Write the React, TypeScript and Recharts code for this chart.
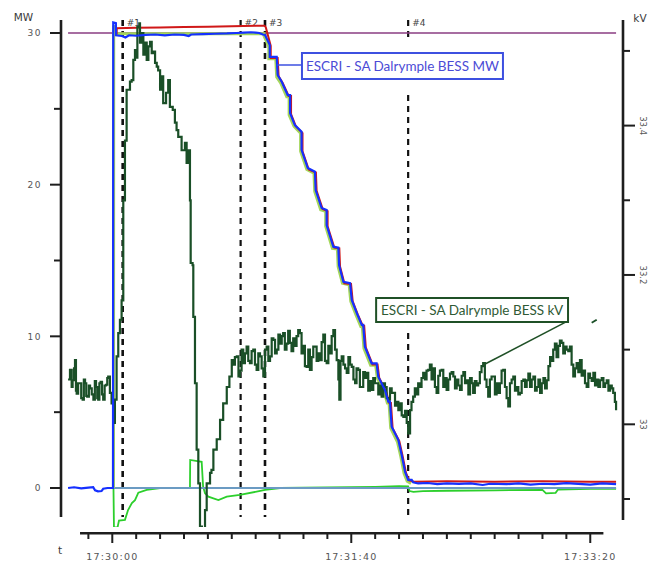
import React from 'react';
import { ComposedChart, Line, XAxis, YAxis, ReferenceLine, ReferenceArea } from 'recharts';

// time axis: seconds after 17:30:00
const T_MIN = -21.46;
const T_MAX = 213.7;
const MW_MIN = -2.571;
const MW_MAX = 30.857;
const KV_MIN = 32.8625;
const KV_MAX = 33.5414;

const timeTicks = [-10, 0, 10, 20, 30, 40, 50, 60, 70, 80, 90, 100, 110, 120, 130, 140, 150, 160, 170, 180, 190, 200];
const timeLabels: Record<string, string> = { '0': '17:30:00', '100': '17:31:40', '200': '17:33:20' };
const mwTicks = [0, 5, 10, 15, 20, 25, 30];
const kvTicks = [32.9, 33, 33.1, 33.2, 33.3, 33.4, 33.5];
const kvLabels = ['33', '33.2', '33.4'];

const events = [
  { name: '#1', t: 4.35, width: 2.6, parts: [[30.857, -1.91]] },
  { name: '#2', t: 53.7, width: 2.2, parts: [[30.857, -1.91]] },
  { name: '#3', t: 63.9, width: 2.6, parts: [[30.857, -1.91]] },
  { name: '#4', t: 123.8, width: 2.2, parts: [[30.857, 29.74], [25.91, 13.25], [10.22, -1.91]] },
];

// MW limit and zero reference
const limitMw: [number, number][] = [[-18.5, 30], [210.8, 30]];
const zeroMw: [number, number][] = [[0.5, 0], [210.8, 0]];

// BESS active power (blue)
const bessMw: [number, number][] = [
  [-18.5, 0.0], [-16, 0.05], [-13, -0.02], [-10, 0.03], [-8, 0.05], [-7.2, -0.15], [-6, -0.22], [-4.5, -0.2],
  [-3.8, -0.05], [-2, 0.0], [0.3, 0.0], [0.4, 30.7], [1.5, 30.65], [1.6, 29.85], [4, 29.8], [5.5, 29.7], [7, 29.85],
  [10, 29.82], [14, 29.88], [18, 29.9], [22, 29.85], [26, 29.9], [30, 29.88], [32, 29.8], [33, 29.9], [38, 29.92],
  [43, 29.95], [48, 29.97], [52, 30.0], [55, 30.02], [58, 30.05], [60, 30.02], [61.5, 30.0], [63, 29.9],
  [63.9, 29.87], [65.9, 29.21], [65.9, 28.42], [68.8, 28.42], [69.2, 27.23], [70.9, 26.79], [73.4, 25.91],
  [74.4, 25.91], [74.4, 24.72], [76.4, 23.93], [79.2, 23.49], [79.2, 22.29], [81.8, 21.1], [84.8, 20.85],
  [85.1, 19.65], [87.6, 18.46], [89.7, 18.33], [89.7, 17.34], [92.5, 15.91], [94.6, 15.84], [94.9, 14.7],
  [96.7, 13.6], [99.5, 13.5], [100.2, 12.4], [102.3, 11.54], [104.4, 10.75], [105.0, 10.75], [105.7, 9.32],
  [108.5, 8.22], [110.6, 8.22], [111.3, 7.34], [114.1, 6.46], [115.5, 5.69], [116.2, 5.69], [116.9, 4.04],
  [119.7, 3.16], [121.1, 2.18], [122.5, 1.07], [123.8, 0.53], [125.3, 0.53], [125.9, 0.38], [128, 0.3],
  [132, 0.33], [136, 0.25], [140, 0.3], [145, 0.27], [150, 0.3], [155, 0.2], [158, 0.28], [165, 0.25],
  [170, 0.3], [175, 0.22], [180, 0.28], [185, 0.25], [190, 0.32], [195, 0.27], [200, 0.22], [205, 0.3], [210.8, 0.25],
];

// setpoint (red)
const setpointMw: [number, number][] = [
  [1.8, 29.9], [1.9, 30.32], [10, 30.34], [20, 30.37], [30, 30.39], [40, 30.42], [50, 30.44], [60, 30.47],
  [63.7, 30.48], [64.2, 30.4], [66.3, 29.15], [66.3, 28.35], [69.2, 28.35], [69.6, 27.15], [71.3, 26.7],
  [73.8, 25.85], [74.8, 25.85], [74.8, 24.65], [76.8, 23.85], [79.6, 23.4], [79.6, 22.2], [82.2, 21.0],
  [85.2, 20.8], [85.5, 19.6], [88.0, 18.4], [90.1, 18.25], [90.1, 17.25], [92.9, 15.85], [95.0, 15.8],
  [95.3, 14.6], [97.1, 13.5], [99.9, 13.45], [100.6, 12.3], [102.7, 11.45], [104.8, 10.7], [105.4, 10.7],
  [106.1, 9.25], [108.9, 8.15], [111.0, 8.15], [111.7, 7.25], [114.5, 6.4], [115.9, 5.6], [116.6, 5.6],
  [117.3, 3.95], [120.1, 3.1], [121.5, 2.1], [122.9, 1.0], [124.2, 0.5], [126.3, 0.42], [140, 0.44],
  [160, 0.42], [180, 0.44], [200, 0.42], [210.8, 0.42],
];

// available / target (yellow green)
const targetMw: [number, number][] = [
  [0.5, 0], [0.6, 30.5], [1.4, 29.95], [63.5, 29.95], [63.5, 29.8], [65.5, 29.1], [65.5, 28.3], [68.4, 28.3],
  [68.8, 27.1], [70.5, 26.7], [73.0, 25.8], [74.0, 25.8], [74.0, 24.6], [76.0, 23.85], [78.8, 23.4],
  [78.8, 22.2], [81.4, 21.0], [84.4, 20.75], [84.7, 19.55], [87.2, 18.35], [89.3, 18.25], [89.3, 17.25],
  [92.1, 15.8], [94.2, 15.75], [94.5, 14.6], [96.3, 13.5], [99.1, 13.4], [99.8, 12.3], [101.9, 11.45],
  [104.0, 10.65], [104.6, 10.65], [105.3, 9.2], [108.1, 8.1], [110.2, 8.1], [110.9, 7.25], [113.7, 6.35],
  [115.1, 5.6], [115.8, 5.6], [116.5, 3.95], [119.3, 3.05], [120.7, 2.1], [122.1, 0.95], [123.4, 0.45], [125.0, 0.3],
];

// reactive power (bright green)
const reactiveMw: [number, number][] = [
  [0.5, 0], [0.7, -2.6], [2.2, -2.6], [2.8, -2.15], [5.3, -2.1], [6.6, -1.45], [8.2, -1.0], [9.5, -0.8],
  [10.9, -0.31], [14.4, -0.13], [20, 0.0], [28, 0.0], [32.5, 0.02], [32.6, 1.85], [37.4, 1.73], [38.0, 0.1],
  [38.8, -0.35], [40.2, -0.57], [44.4, -0.79], [47.9, -0.57], [53.4, -0.46], [60.4, -0.24], [63.9, -0.13],
  [70.2, 0.0], [100, 0.05], [110, 0.08], [120, 0.12], [123.8, 0.1], [124.4, -0.2], [126, -0.25], [130, -0.2],
  [140, -0.18], [160, -0.15], [180, -0.12], [181.5, -0.35], [185.5, -0.32], [186.5, -0.1], [200, -0.05], [210.8, -0.05],
];

// BESS terminal voltage, kV (dark green)
const bessKv: [number, number][] = [
  [-18.5, 33.06], [-17.7, 33.073], [-17.0, 33.05], [-16.6, 33.059], [-16.0, 33.075], [-15.6, 33.086],
  [-15.2, 33.045], [-14.9, 33.041], [-14.3, 33.055], [-13.5, 33.055], [-13.0, 33.035], [-12.4, 33.033],
  [-11.9, 33.06], [-11.4, 33.055], [-10.9, 33.038], [-10.5, 33.037], [-9.8, 33.052], [-9.3, 33.048],
  [-8.6, 33.04], [-7.9, 33.033], [-7.3, 33.058], [-6.8, 33.05], [-6.3, 33.035], [-5.9, 33.033], [-5.4, 33.055],
  [-4.9, 33.057], [-4.3, 33.04], [-3.8, 33.033], [-3.2, 33.052], [-2.6, 33.053], [-2.1, 33.062], [-1.7, 33.064],
  [-1.0, 33.042], [-0.3, 33.028], [0.4, 33.002], [1.1, 33.033], [1.8, 33.091], [2.5, 33.122], [3.2, 33.14],
  [3.9, 33.166], [4.6, 33.3], [5.3, 33.38], [6.0, 33.448], [7.4, 33.459], [8.1, 33.461], [8.8, 33.488],
  [9.5, 33.501], [9.9, 33.491], [10.5, 33.532], [11.3, 33.537], [11.6, 33.511], [12.3, 33.524], [13.0, 33.495],
  [13.7, 33.511], [14.4, 33.488], [15.1, 33.506], [15.8, 33.512], [16.5, 33.497], [17.2, 33.499], [17.9, 33.484],
  [18.6, 33.479], [19.2, 33.474], [20.0, 33.448], [20.7, 33.466], [21.3, 33.43], [22.5, 33.444], [23.4, 33.461],
  [24.1, 33.425], [25.3, 33.421], [26.2, 33.404], [26.9, 33.394], [27.6, 33.385], [29.0, 33.367], [30.4, 33.377],
  [31.1, 33.35], [31.8, 33.367], [32.5, 33.3], [32.8, 33.216], [33.6, 33.213], [33.9, 33.144], [34.6, 33.055],
  [35.3, 32.966], [36.0, 32.921], [36.7, 32.863], [37.5, 32.855], [38.4, 32.86], [38.8, 32.885], [39.5, 32.921],
  [40.9, 32.935], [41.5, 32.939], [42.3, 32.966], [43.7, 32.98], [45.1, 33.006], [46.4, 33.028], [47.9, 33.05],
  [49.0, 33.064], [50.0, 33.086], [50.6, 33.08], [51.3, 33.09], [52.1, 33.091], [52.8, 33.064], [53.4, 33.072],
  [54.1, 33.1], [54.8, 33.082], [55.5, 33.095], [56.2, 33.104], [56.9, 33.085], [57.6, 33.082], [58.3, 33.098],
  [59.0, 33.1], [59.7, 33.08], [60.4, 33.073], [61.1, 33.095], [61.8, 33.091], [62.5, 33.075], [63.2, 33.064],
  [63.9, 33.1], [64.6, 33.104], [65.3, 33.085], [66.0, 33.091], [66.7, 33.115], [67.4, 33.113], [68.1, 33.095],
  [68.8, 33.1], [69.5, 33.12], [70.2, 33.108], [70.9, 33.118], [71.5, 33.122], [72.2, 33.1], [72.9, 33.108],
  [73.6, 33.125], [74.3, 33.109], [75.0, 33.098], [75.7, 33.115], [76.4, 33.105], [77.1, 33.118], [77.8, 33.126],
  [78.5, 33.122], [79.2, 33.095], [79.9, 33.105], [80.6, 33.078], [81.3, 33.077], [82.0, 33.1], [82.7, 33.073],
  [83.4, 33.09], [84.1, 33.104], [84.8, 33.104], [85.5, 33.085], [86.2, 33.095], [86.9, 33.086], [87.6, 33.11],
  [88.3, 33.12], [89.0, 33.085], [89.7, 33.082], [90.4, 33.105], [91.1, 33.095], [91.8, 33.118], [92.5, 33.126],
  [93.2, 33.1], [93.9, 33.086], [94.6, 33.06], [95.0, 33.033], [95.5, 33.085], [96.0, 33.091], [96.7, 33.08],
  [97.4, 33.075], [98.1, 33.069], [98.8, 33.09], [99.5, 33.08], [100.2, 33.077], [100.9, 33.06], [101.6, 33.055],
  [102.2, 33.075], [102.9, 33.073], [103.6, 33.05], [104.4, 33.05], [105.0, 33.07], [105.7, 33.062], [106.4, 33.069],
  [107.1, 33.045], [107.8, 33.058], [108.5, 33.046], [109.2, 33.062], [109.9, 33.055], [110.6, 33.055],
  [111.3, 33.04], [112.0, 33.052], [112.7, 33.037], [113.4, 33.055], [114.1, 33.05], [114.8, 33.035],
  [115.5, 33.033], [116.2, 33.048], [116.9, 33.042], [117.6, 33.042], [118.3, 33.025], [119.0, 33.03],
  [119.7, 33.019], [120.4, 33.028], [121.1, 33.012], [121.8, 33.01], [122.5, 33.018], [123.2, 33.002],
  [123.8, 32.988], [124.6, 33.019], [125.2, 33.03], [125.9, 33.037], [126.6, 33.048], [127.3, 33.04],
  [128.0, 33.055], [128.7, 33.05], [129.4, 33.062], [130.1, 33.069], [130.8, 33.06], [131.5, 33.072],
  [132.2, 33.073], [132.9, 33.08], [133.6, 33.06], [134.3, 33.075], [135.0, 33.05], [135.7, 33.042],
  [136.4, 33.065], [137.1, 33.072], [137.8, 33.073], [138.5, 33.05], [139.2, 33.062], [139.9, 33.046],
  [140.6, 33.06], [141.3, 33.068], [142.0, 33.07], [142.7, 33.064], [143.4, 33.048], [144.1, 33.06],
  [144.8, 33.052], [145.5, 33.046], [146.2, 33.065], [146.9, 33.07], [147.6, 33.055], [148.3, 33.059],
  [149.0, 33.04], [149.7, 33.062], [150.4, 33.055], [151.0, 33.042], [151.7, 33.058], [152.4, 33.052],
  [153.1, 33.055], [153.8, 33.07], [154.5, 33.078], [155.2, 33.082], [155.9, 33.06], [156.6, 33.05],
  [157.3, 33.037], [158.0, 33.06], [158.7, 33.064], [159.4, 33.064], [160.1, 33.04], [160.8, 33.055],
  [161.5, 33.042], [162.2, 33.055], [162.9, 33.072], [163.6, 33.073], [164.3, 33.05], [165.0, 33.035],
  [165.7, 33.024], [166.4, 33.055], [167.1, 33.06], [167.8, 33.064], [168.5, 33.045], [169.2, 33.05],
  [169.9, 33.04], [170.6, 33.042], [171.3, 33.058], [172.0, 33.06], [172.7, 33.05], [173.4, 33.059],
  [174.1, 33.068], [174.8, 33.05], [175.5, 33.06], [176.2, 33.064], [176.9, 33.045], [177.6, 33.05],
  [178.3, 33.06], [179.0, 33.042], [179.7, 33.055], [180.4, 33.062], [181.1, 33.048], [181.8, 33.059],
  [182.5, 33.078], [183.2, 33.09], [183.8, 33.085], [184.5, 33.1], [185.2, 33.108], [185.9, 33.09],
  [186.6, 33.105], [187.3, 33.112], [188.0, 33.109], [188.7, 33.095], [189.4, 33.104], [190.1, 33.1],
  [190.8, 33.098], [191.5, 33.104], [192.2, 33.08], [192.9, 33.064], [193.6, 33.075], [194.3, 33.082],
  [195.0, 33.07], [195.7, 33.086], [196.4, 33.065], [197.1, 33.072], [197.8, 33.055], [198.5, 33.05],
  [199.2, 33.068], [199.9, 33.062], [200.6, 33.058], [201.3, 33.069], [202.0, 33.052], [202.7, 33.06],
  [203.4, 33.05], [204.1, 33.059], [204.8, 33.062], [205.5, 33.05], [206.2, 33.055], [206.9, 33.059],
  [207.6, 33.045], [208.3, 33.052], [209.0, 33.048], [209.6, 33.042], [210.3, 33.03], [210.8, 33.019],
];
const strayKv: [number, number][] = [[200.6, 33.136], [202.7, 33.14]];

// annotation boxes (MW axis units)
const mwBox = { t1: 79.37, t2: 163.47, y1: 28.68, y2: 26.97, text: 'ESCRI - SA Dalrymple BESS MW' };
const mwLeader = [{ x: 68.8, y: 27.89 }, { x: 79.37, y: 27.89 }];
const kvBox = { t1: 110.4, t2: 190.7, y1: 12.53, y2: 10.95, text: 'ESCRI - SA Dalrymple BESS kV' };
const kvLeader = [{ x: 190.1, y: 10.97 }, { x: 155.2, y: 8.11 }];

const rows = (pts: [number, number][]) => pts.map(([t, v]) => ({ t, v }));

const axisFont = '"DejaVu Sans", sans-serif';
const axisColor = '#1e1e1e';

const MwTick = (props: any) => {
  const { x, y, payload } = props;
  const major = payload.value % 10 === 0;
  return (
    <g>
      <line x1={x - (major ? 11 : 7)} x2={x} y1={y} y2={y} stroke={axisColor} strokeWidth={2} />
      {major && (
        <text x={x - 19} y={y + 3.3} textAnchor="end" fontSize={9} fill="#555" fontFamily={axisFont} style={{ letterSpacing: '1.5px' }}>
          {payload.value}
        </text>
      )}
    </g>
  );
};

const KvTick = (props: any) => {
  const { x, y, payload } = props;
  const label = String(payload.value);
  const major = kvLabels.includes(label);
  return (
    <g>
      <line x1={x} x2={x + (major ? 12 : 7)} y1={y} y2={y} stroke={axisColor} strokeWidth={2} />
      {major && (
        <text x={x + 19.5} y={y} transform={`rotate(90 ${x + 19.5} ${y})`} textAnchor="middle" dominantBaseline="central" fontSize={8.5} fill="#555" fontFamily={axisFont}>
          {label}
        </text>
      )}
    </g>
  );
};

const TimeTick = (props: any) => {
  const { x, y, payload } = props;
  const label = timeLabels[String(payload.value)];
  return (
    <g>
      <line x1={x} x2={x} y1={y + 6} y2={y + (label ? 16 : 12)} stroke={axisColor} strokeWidth={2} />
      {label && (
        <text x={x} y={y + 32.5} textAnchor="middle" fontSize={9.5} fill="#555" fontFamily={axisFont} style={{ letterSpacing: '1.2px' }}>
          {label}
        </text>
      )}
    </g>
  );
};

const eventLabel = (name: string) => (p: any) => {
  const vb = p.viewBox || {};
  const x = vb.x ?? vb.x1 ?? 0;
  const y = Math.min(vb.y ?? vb.y1 ?? 20, vb.y2 ?? 9999);
  return (
    <text x={x + 4} y={y + 5.5} fontSize={9} fill="#444" fontFamily={axisFont}>
      {name}
    </text>
  );
};

export default function App() {
  return (
    <div style={{ position: 'absolute', left: 0, top: 0, width: 656, height: 561, background: '#fff' }}>
      <ComposedChart width={656} height={561} margin={{ top: 20, right: 0, bottom: 0, left: 0 }}>
        <XAxis
          type="number"
          dataKey="t"
          domain={[T_MIN, T_MAX]}
          allowDataOverflow
          ticks={timeTicks}
          interval={0}
          tickSize={0}
          tickMargin={0}
          axisLine={false}
          tickLine={false}
          tick={TimeTick}
          height={34}
        />
        <YAxis
          yAxisId="mw"
          type="number"
          domain={[MW_MIN, MW_MAX]}
          allowDataOverflow
          ticks={mwTicks}
          interval={0}
          tickSize={0}
          tickMargin={0}
          axisLine={false}
          tickLine={false}
          tick={MwTick}
          width={61}
        />
        <YAxis
          yAxisId="kv"
          orientation="right"
          type="number"
          domain={[KV_MIN, KV_MAX]}
          allowDataOverflow
          ticks={kvTicks}
          interval={0}
          tickSize={0}
          tickMargin={0}
          axisLine={false}
          tickLine={false}
          tick={KvTick}
          width={33}
        />

        {/* axis lines */}
        <ReferenceLine yAxisId="mw" segment={[{ x: T_MIN, y: MW_MAX }, { x: T_MIN, y: -1.91 }]} stroke={axisColor} strokeWidth={2.6} ifOverflow="visible" />
        <ReferenceLine yAxisId="kv" segment={[{ x: T_MAX, y: KV_MAX }, { x: T_MAX, y: 32.872 }]} stroke={axisColor} strokeWidth={2.6} ifOverflow="visible" />
        <ReferenceLine yAxisId="mw" segment={[{ x: -13.5, y: -2.987 }, { x: 205.5, y: -2.987 }]} stroke={axisColor} strokeWidth={2.6} ifOverflow="visible" />

        {/* event markers */}
        {events.map((ev) =>
          ev.parts.map((p, i) => (
            <ReferenceLine
              key={ev.name + i}
              yAxisId="mw"
              segment={[{ x: ev.t, y: p[0] }, { x: ev.t, y: p[1] }]}
              stroke="#111"
              strokeWidth={ev.width}
              strokeDasharray="6 5"
              ifOverflow="visible"
              label={i === 0 ? eventLabel(ev.name) : undefined}
            />
          ))
        )}

        <Line yAxisId="mw" data={rows(limitMw)} dataKey="v" stroke="#8a3d82" strokeWidth={1.6} dot={false} isAnimationActive={false} />
        <Line yAxisId="mw" data={rows(reactiveMw)} dataKey="v" stroke="#2ccf2c" strokeWidth={1.8} dot={false} isAnimationActive={false} />
        <Line yAxisId="mw" data={rows(zeroMw)} dataKey="v" stroke="#6b9bc3" strokeWidth={1.8} dot={false} isAnimationActive={false} />
        <Line yAxisId="mw" data={rows(targetMw)} dataKey="v" stroke="#a4d65a" strokeWidth={3} dot={false} isAnimationActive={false} />
        <Line yAxisId="mw" data={rows(setpointMw)} dataKey="v" stroke="#d01818" strokeWidth={2} dot={false} isAnimationActive={false} />
        <Line yAxisId="kv" data={rows(bessKv)} dataKey="v" type="stepAfter" stroke="#1a4f27" strokeWidth={2.2} dot={false} isAnimationActive={false} />
        <Line yAxisId="kv" data={rows(strayKv)} dataKey="v" stroke="#1a4f27" strokeWidth={2} dot={false} isAnimationActive={false} />
        <Line yAxisId="mw" data={rows(bessMw)} dataKey="v" stroke="#1530ff" strokeWidth={2.2} dot={false} isAnimationActive={false} />

        {/* annotations */}
        <ReferenceLine yAxisId="mw" segment={mwLeader} stroke="#3d50e0" strokeWidth={1.5} ifOverflow="visible" />
        <ReferenceArea
          yAxisId="mw"
          x1={mwBox.t1}
          x2={mwBox.t2}
          y1={mwBox.y1}
          y2={mwBox.y2}
          fill="#fff"
          fillOpacity={1}
          stroke="#3d50e0"
          strokeWidth={2}
          ifOverflow="visible"
          label={{ value: mwBox.text, position: 'center', fill: '#4b4bd6', fontSize: 13.5, fontFamily: 'Lato, sans-serif' }}
        />
        <ReferenceLine yAxisId="mw" segment={kvLeader} stroke="#1f5026" strokeWidth={1.5} ifOverflow="visible" />
        <ReferenceArea
          yAxisId="mw"
          x1={kvBox.t1}
          x2={kvBox.t2}
          y1={kvBox.y1}
          y2={kvBox.y2}
          fill="#fff"
          fillOpacity={1}
          stroke="#1f5026"
          strokeWidth={2}
          ifOverflow="visible"
          label={{ value: kvBox.text, position: 'center', fill: '#2f5a35', fontSize: 13.5, fontFamily: 'Lato, sans-serif' }}
        />
      </ComposedChart>
      <svg width={656} height={561} style={{ position: 'absolute', left: 0, top: 0, pointerEvents: 'none' }}>
        <text x={23.5} y={21} textAnchor="middle" fontSize={10.5} fill="#3a3a3a" fontFamily={axisFont}>MW</text>
        <text x={640} y={22} textAnchor="middle" fontSize={10.5} fill="#3a3a3a" fontFamily={axisFont}>kV</text>
        <text x={60} y={553.5} textAnchor="middle" fontSize={10.5} fill="#3a3a3a" fontFamily={axisFont}>t</text>
      </svg>
    </div>
  );
}
